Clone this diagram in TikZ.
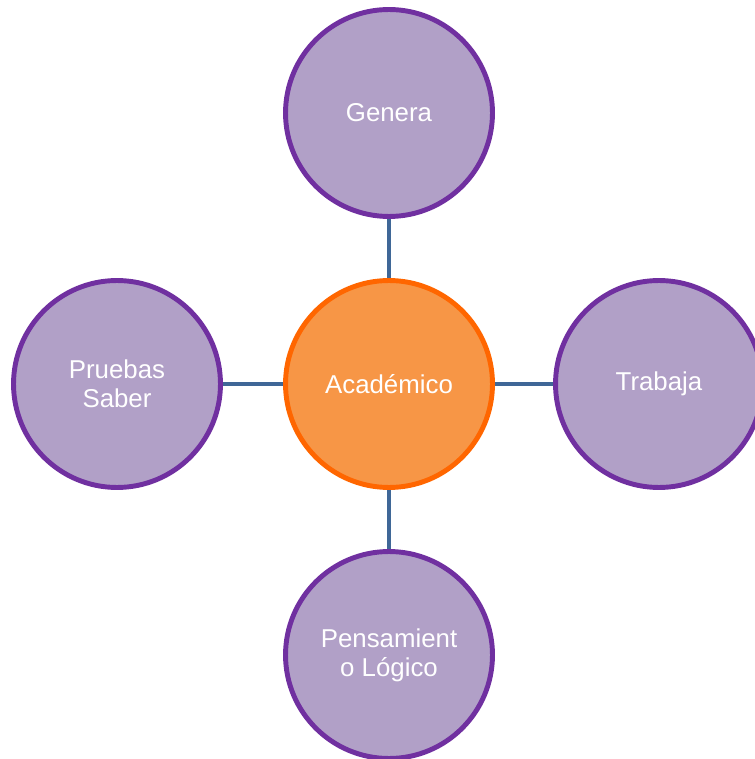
\documentclass[tikz,border=0pt]{standalone}
\usepackage{fontspec}
\setmainfont{Liberation Sans}
\usetikzlibrary{positioning}
\definecolor{lila}{HTML}{B1A0C7}
\definecolor{lilaborde}{HTML}{7030A0}
\definecolor{naranja}{HTML}{F79646}
\definecolor{naranjaborde}{HTML}{FF6600}
\definecolor{enlace}{HTML}{3F6797}
\tikzset{
	hoja/.style={circle, draw=lilaborde, fill=lila, line width=2.8pt, minimum size=4.14cm, inner sep=0pt, align=center, text=white, font=\fontsize{14.7}{16.5}\selectfont},
	centro/.style={hoja, draw=naranjaborde, fill=naranja},
	enl/.style={draw=enlace, line width=2.8pt}
}
\begin{document}
\begin{tikzpicture}[x=0.02cm, y=-0.02cm]
        \useasboundingbox (0,0) rectangle (754,759);
        \node[centro] (acad) at (389, 384) {Académico};
        \node[hoja] (genera) at (389, 113) {Genera};
        \node[hoja] (trabaja) at (659, 384) {Trabaja};
        \node[hoja] (pruebas) at (117, 384) {Pruebas\\Saber};
        \node[hoja] (pensam) at (389, 655) {Pensamient\\o Lógico};

        \draw[enl] (acad) -- (genera);
        \draw[enl] (acad) -- (trabaja);
        \draw[enl] (acad) -- (pruebas);
        \draw[enl] (acad) -- (pensam);
    \end{tikzpicture}
\end{document}
